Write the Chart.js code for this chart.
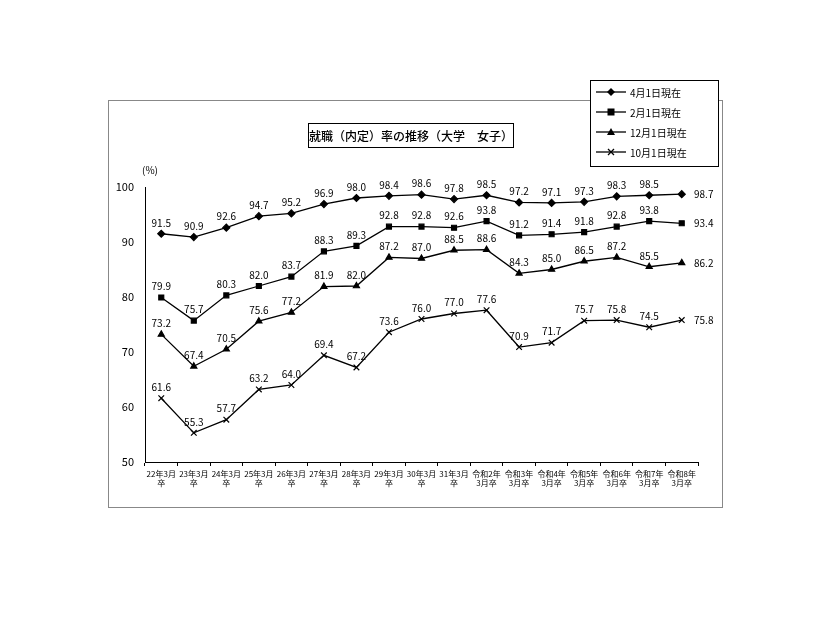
<!DOCTYPE html>
<html><head><meta charset="utf-8">
<script src="https://cdn.jsdelivr.net/npm/chart.js@4"></script>
<style>html,body{margin:0;background:#fff}#c{display:block}</style></head>
<body><canvas id="c" width="826" height="620"></canvas>
<script>
const categories=[["22年3月","卒"],["23年3月","卒"],["24年3月","卒"],["25年3月","卒"],["26年3月","卒"],["27年3月","卒"],["28年3月","卒"],["29年3月","卒"],["30年3月","卒"],["31年3月","卒"],["令和2年","3月卒"],["令和3年","3月卒"],["令和4年","3月卒"],["令和5年","3月卒"],["令和6年","3月卒"],["令和7年","3月卒"],["令和8年","3月卒"]];
const apr=[91.5,90.9,92.6,94.7,95.2,96.9,98.0,98.4,98.6,97.8,98.5,97.2,97.1,97.3,98.3,98.5,98.7];
const feb=[79.9,75.7,80.3,82.0,83.7,88.3,89.3,92.8,92.8,92.6,93.8,91.2,91.4,91.8,92.8,93.8,93.4];
const dec=[73.2,67.4,70.5,75.6,77.2,81.9,82.0,87.2,87.0,88.5,88.6,84.3,85.0,86.5,87.2,85.5,86.2];
const oct=[61.6,55.3,57.7,63.2,64.0,69.4,67.2,73.6,76.0,77.0,77.6,70.9,71.7,75.7,75.8,74.5,75.8];
const seriesNames=["4月1日現在","2月1日現在","12月1日現在","10月1日現在"];
const styles=["rectRot","rect","triangle","crossRot"];
const F="'Noto Sans CJK JP',sans-serif";
const ds=[apr,feb,dec,oct].map((d,i)=>({label:seriesNames[i],data:d,borderColor:'#000',backgroundColor:'#000',borderWidth:1.3,pointStyle:styles[i],pointRadius:i==3?4:3.5,pointBorderWidth:1.2,tension:0}));
const deco={id:'deco',afterDraw(ch){const c=ch.ctx;c.save();
c.strokeStyle='#888';c.lineWidth=1;c.strokeRect(108.5,100.5,614,407);
c.strokeStyle='#000';c.strokeRect(308.5,123.5,205,24);
c.fillStyle='#000';c.font='500 12px '+F;c.textAlign='center';c.textBaseline='middle';c.fillText('就職（内定）率の推移（大学　女子）',411,136);
c.font='10px '+F;c.fillText('(%)',150,170);
c.fillStyle='#fff';c.fillRect(590,80,128,86);c.strokeRect(590.5,80.5,128,86);
c.textAlign='left';
seriesNames.forEach((n,i)=>{const y=92+i*20;c.strokeStyle='#000';c.lineWidth=1.3;c.beginPath();c.moveTo(596,y);c.lineTo(626,y);c.stroke();
c.fillStyle='#000';c.beginPath();const x=611;
if(i==0){c.moveTo(x,y-4);c.lineTo(x+4,y);c.lineTo(x,y+4);c.lineTo(x-4,y);c.fill();}
else if(i==1){c.fillRect(x-3.5,y-3.5,7,7);}
else if(i==2){c.moveTo(x,y-4);c.lineTo(x+4,y+3);c.lineTo(x-4,y+3);c.fill();}
else{c.moveTo(x-3,y-3);c.lineTo(x+3,y+3);c.moveTo(x+3,y-3);c.lineTo(x-3,y+3);c.stroke();}
c.fillText(n,630,y+1);});
c.font='10px '+F;c.textAlign='center';c.textBaseline='bottom';c.fillStyle='#000';
ch.data.datasets.forEach((d,di)=>{const m=ch.getDatasetMeta(di);m.data.forEach((p,j)=>{let x=p.x,y=p.y-6;
if(j==16){x+=22;y+=11;}
c.fillText(d.data[j].toFixed(1),x,y);});});
c.restore();}};
new Chart(document.getElementById('c'),{type:'line',data:{labels:categories,datasets:ds},
options:{responsive:false,animation:false,layout:{padding:{left:110,right:128,top:187,bottom:118}},
plugins:{legend:{display:false},tooltip:{enabled:false}},
scales:{y:{min:50,max:100,ticks:{stepSize:10,color:'#000',font:{size:11,family:F}},grid:{display:false},border:{color:'#000'},afterFit(s){s.width=35;}},
x:{offset:true,grid:{display:true,drawOnChartArea:false,offset:true,tickLength:4,color:'#000'},border:{color:'#000'},ticks:{color:'#000',font:{size:8,family:F},maxRotation:0,autoSkip:false},afterFit(s){s.height=40;}}}},
plugins:[deco]});
</script></body></html>
